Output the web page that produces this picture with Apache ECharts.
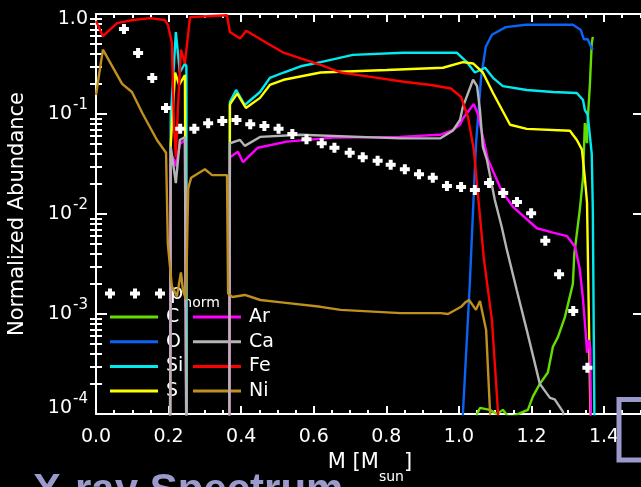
<!DOCTYPE html>
<html>
<head>
<meta charset="utf-8">
<script src="https://cdn.jsdelivr.net/npm/echarts@6/dist/echarts.min.js"></script>
<style>
  html, body { margin: 0; padding: 0; background: #000; }
  #chart { width: 641px; height: 487px; }
</style>
</head>
<body>
<div id="chart"></div>
<script>
// Normalized abundances versus enclosed mass [M, X]
const carbon = [[1.045,1e-6],[1.050,1.0e-4],[1.058,1.15e-4],[1.085,1.1e-4],[1.105,1.0e-4],[1.121,1.1e-4],[1.135,0.95e-4],[1.149,0.95e-4],[1.190,1.1e-4],[1.204,1.5e-4],[1.223,2e-4],[1.245,2.6e-4],[1.259,4.7e-4],[1.273,5.9e-4],[1.292,9.3e-4],[1.314,0.002],[1.318,0.004],[1.333,0.011],[1.342,0.023],[1.347,0.081],[1.353,0.051],[1.355,0.087],[1.361,0.2],[1.366,0.51],[1.369,0.59]];
const oxygen = [[1.006,1e-6],[1.011,1e-4],[1.030,0.002],[1.047,0.05],[1.061,0.23],[1.074,0.47],[1.091,0.62],[1.129,0.74],[1.185,0.78],[1.314,0.78],[1.336,0.69],[1.344,0.56],[1.355,0.56],[1.364,0.47],[1.369,0.44]];
const silicon = [[0.203,1e-6],[0.206,0.10],[0.209,0.138],[0.220,0.66],[0.231,0.26],[0.245,0.32],[0.249,0.30],[0.251,1e-6],[0.366,1e-6],[0.369,0.132],[0.386,0.174],[0.410,0.123],[0.452,0.166],[0.479,0.23],[0.517,0.26],[0.564,0.30],[0.619,0.33],[0.708,0.39],[0.846,0.41],[0.956,0.41],[0.994,0.41],[1.022,0.33],[1.044,0.26],[1.072,0.29],[1.094,0.23],[1.121,0.19],[1.187,0.174],[1.259,0.166],[1.325,0.162],[1.342,0.138],[1.347,0.11],[1.355,0.098],[1.366,0.04],[1.369,0.011],[1.373,1.3e-4],[1.375,1e-6]];
const sulfur = [[0.203,1e-6],[0.206,0.05],[0.218,0.26],[0.229,0.195],[0.245,0.245],[0.249,0.245],[0.251,1e-6],[0.366,1e-6],[0.369,0.125],[0.389,0.16],[0.413,0.115],[0.452,0.145],[0.479,0.195],[0.517,0.22],[0.619,0.26],[0.801,0.275],[0.956,0.29],[1.011,0.33],[1.039,0.32],[1.066,0.26],[1.094,0.162],[1.141,0.078],[1.187,0.071],[1.306,0.068],[1.314,0.062],[1.325,0.055],[1.339,0.044],[1.347,0.023],[1.353,0.013],[1.358,0.0135],[1.362,1.2e-4],[1.364,1e-6]];
const argon = [[0.203,1e-6],[0.206,0.04],[0.215,0.035],[0.220,0.03],[0.231,0.05],[0.245,0.055],[0.249,0.055],[0.251,1e-6],[0.366,1e-6],[0.369,0.037],[0.391,0.042],[0.405,0.033],[0.446,0.046],[0.526,0.053],[0.653,0.058],[0.837,0.059],[0.948,0.062],[0.983,0.069],[1.003,0.078],[1.011,0.09],[1.041,0.126],[1.052,0.10],[1.072,0.047],[1.080,0.035],[1.118,0.017],[1.149,0.0118],[1.215,0.0072],[1.259,0.0065],[1.298,0.006],[1.320,0.0047],[1.333,0.0028],[1.342,0.0014],[1.350,0.0006],[1.353,0.00041],[1.358,0.00055],[1.362,0.00045],[1.366,1e-6]];
const calcium = [[0.203,1e-6],[0.206,0.047],[0.220,0.0204],[0.231,0.055],[0.245,0.059],[0.249,0.059],[0.251,1e-6],[0.366,1e-6],[0.369,0.051],[0.397,0.055],[0.410,0.048],[0.452,0.059],[0.564,0.062],[0.837,0.057],[0.948,0.057],[0.983,0.068],[1.003,0.087],[1.011,0.118],[1.039,0.22],[1.050,0.19],[1.058,0.11],[1.066,0.047],[1.077,0.035],[1.099,0.0138],[1.118,0.0074],[1.132,0.0044],[1.160,0.0017],[1.187,0.00069],[1.223,0.0002],[1.251,0.000145],[1.264,0.00014],[1.287,1.05e-4],[1.30,1e-6]];
const iron = [[0,0.85],[0.019,0.60],[0.058,0.81],[0.102,0.87],[0.149,0.91],[0.190,0.87],[0.198,0.78],[0.209,0.52],[0.215,0.074],[0.220,0.037],[0.226,0.12],[0.234,0.44],[0.245,0.32],[0.259,0.93],[0.306,0.95],[0.361,0.97],[0.369,0.66],[0.397,0.57],[0.414,0.68],[0.472,0.51],[0.517,0.41],[0.564,0.36],[0.619,0.31],[0.674,0.26],[0.757,0.235],[0.848,0.21],[0.923,0.195],[0.978,0.18],[1.006,0.148],[1.025,0.093],[1.041,0.044],[1.069,0.0035],[1.091,0.00087],[1.108,1.0e-4],[1.12,1e-6]];
const nickel = [[0,0.155],[0.019,0.44],[0.072,0.20],[0.099,0.166],[0.129,0.10],[0.168,0.055],[0.193,0.041],[0.198,0.005],[0.209,0.0019],[0.223,0.0015],[0.234,0.0026],[0.240,0.0017],[0.248,0.0014],[0.254,0.018],[0.262,0.023],[0.300,0.028],[0.320,0.0245],[0.361,0.0245],[0.364,0.0016],[0.376,0.00148],[0.410,0.00155],[0.453,0.00138],[0.517,0.0013],[0.619,0.00118],[0.674,0.0011],[0.840,0.00102],[0.950,0.00102],[0.970,0.001],[1.006,0.00118],[1.019,0.00132],[1.028,0.00138],[1.047,0.0011],[1.058,0.00135],[1.075,0.00069],[1.086,1.0e-4],[1.10,1e-6]];
// Normalized density profile
const rhoNorm = [[0.077,0.708],[0.116,0.407],[0.155,0.229],[0.193,0.115],[0.232,0.071],[0.271,0.071],[0.309,0.081],[0.348,0.085],[0.387,0.087],[0.425,0.079],[0.464,0.076],[0.503,0.071],[0.541,0.063],[0.580,0.056],[0.622,0.051],[0.657,0.046],[0.699,0.041],[0.735,0.037],[0.776,0.034],[0.812,0.031],[0.851,0.028],[0.890,0.025],[0.928,0.023],[0.967,0.019],[1.006,0.0186],[1.044,0.0174],[1.083,0.0204],[1.122,0.0162],[1.160,0.0132],[1.199,0.0102],[1.238,0.0054],[1.276,0.0025],[1.315,0.00107],[1.354,0.00029]];

const speciesNames = ['C', 'O', 'Si', 'S', 'Ar', 'Ca', 'Fe', 'Ni'];
const speciesColors = ['#66dd00', '#0a64f5', '#00eaf0', '#ffff00', '#ff00ff', '#b4b4b4', '#ff0000', '#c0901e'];
const speciesData = [carbon, oxygen, silicon, sulfur, argon, calcium, iron, nickel];

const xTickLabels = ['0.0', '0.2', '0.4', '0.6', '0.8', '1.0', '1.2', '1.4'];
const xMin = 0, xMax = 1.51;
const yMin = 1e-4, yMax = 1;

const FONT = 'DejaVu Sans';
const WHITE = '#ffffff';
const LAVENDER = '#9a9acc';

// log-spaced minor ticks 2..9 within each decade (exponent space)
const yMinorTicks = [];
for (let e = -4; e < 0; e++) {
  for (let k = 2; k <= 9; k++) yMinorTicks.push(Math.log10(k) + e);
}

const plusPath = 'path://M3,0h4v3h3v4h-3v3h-4v-3h-3v-4h3z';
const triplePlusPath = 'path://M3,0h4v3h3v4h-3v3h-4v-3h-3v-4h3zM28,0h4v3h3v4h-3v3h-4v-3h-3v-4h3zM53,0h4v3h3v4h-3v3h-4v-3h-3v-4h3z';

function xLabel(v) {
  const i = Math.round(v / 0.2);
  if (Math.abs(v - i * 0.2) > 1e-6) return '';
  return xTickLabels[i] || '';
}
// Exponent labels are stacked lines: superscript line, base line, spacer line
function yLabel(v) {
  const e = Math.round(Math.log10(v));
  if (e === 0) return '{one|1.0}';
  const gap = e === -4 ? 'gap4' : 'gap';
  return '{s|' + e + '}\n{b|10}\n{' + gap + '| }';
}

const txt = (size, extra) => Object.assign({ color: WHITE, fontFamily: FONT, fontSize: size }, extra || {});

function hAxis(position, interval, tickLen, withLine, withLabels) {
  const a = {
    type: 'value', position: position, min: xMin, max: xMax, interval: interval,
    axisLine: { show: withLine, onZero: false, lineStyle: { color: WHITE, width: 2 } },
    axisTick: { show: true, inside: true, length: tickLen, lineStyle: { color: WHITE, width: 2 } },
    axisLabel: { show: withLabels },
    splitLine: { show: false }
  };
  if (withLabels) {
    a.axisLabel = Object.assign(txt(19), { show: true, margin: 14, formatter: xLabel });
    a.name = '{m|M [M}{s|sun}{m|]}';
    a.nameLocation = 'middle';
    a.nameGap = 28;
    a.nameTextStyle = Object.assign(txt(21), {
      rich: { m: txt(21), s: txt(14, { padding: [28, 0, 0, 0] }) }
    });
  }
  return a;
}
function logAxis(position, withLabels) {
  const a = {
    type: 'log', logBase: 10, position: position, min: yMin, max: yMax,
    axisLine: { show: true, onZero: false, lineStyle: { color: WHITE, width: 2 } },
    axisTick: { show: true, inside: true, length: 11, lineStyle: { color: WHITE, width: 2 } },
    axisLabel: { show: false },
    splitLine: { show: false }, minorTick: { show: false }
  };
  if (withLabels) {
    a.axisLabel = Object.assign(txt(19), {
      show: true, margin: 8, formatter: yLabel,
      rich: {
        one: txt(19, { padding: [10, 0, 0, 0] }),
        s: txt(15, { lineHeight: 5 }),
        b: txt(19, { lineHeight: 12, padding: [0, 16, 0, 0] }),
        gap: txt(4, { lineHeight: 5 }),
        gap4: txt(4, { lineHeight: 17 })
      }
    });
    a.name = 'Normalized Abundance';
    a.nameLocation = 'middle';
    a.nameGap = 68;
    a.nameTextStyle = txt(21);
  }
  return a;
}
function minorYAxis(position) {
  return {
    type: 'value', position: position, min: -4, max: 0,
    axisLine: { show: false },
    axisTick: { show: true, inside: true, length: 6, customValues: yMinorTicks, lineStyle: { color: WHITE, width: 2 } },
    axisLabel: { show: false }, splitLine: { show: false }
  };
}

const series = speciesNames.map((name, i) => ({
  name: name, type: 'line', data: speciesData[i],
  xAxisIndex: 0, yAxisIndex: 0,
  showSymbol: false, symbol: 'none', clip: true, z: 3,
  color: speciesColors[i],
  lineStyle: { color: speciesColors[i], width: 2.4 }
}));
series.push({
  name: 'rho', type: 'scatter', data: rhoNorm,
  xAxisIndex: 0, yAxisIndex: 0,
  symbol: plusPath, symbolSize: 10, clip: true, z: 5,
  itemStyle: { color: WHITE, opacity: 1 }
});

const legendText = txt(19, { lineHeight: 22, padding: [0, 0, 0, 3] });

const option = {
  backgroundColor: '#000000',
  animation: false,
  grid: { left: 96, top: 14, width: 548, height: 400, containLabel: false, outerBoundsMode: 'none' },
  xAxis: [
    hAxis('bottom', 0.2, 8, true, true),
    hAxis('bottom', 0.05, 4, false, false),
    hAxis('top', 0.2, 8, true, false),
    hAxis('top', 0.05, 4, false, false)
  ],
  yAxis: [
    logAxis('left', true),
    minorYAxis('left'),
    logAxis('right', false),
    minorYAxis('right')
  ],
  legend: [
    {
      data: [{ name: 'rho', icon: triplePlusPath, itemStyle: { color: WHITE, opacity: 1 } }],
      left: 105, top: 283, padding: 0, z: 1,
      itemWidth: 60, itemHeight: 10, selectedMode: false,
      formatter: () => '{r|ρ}{n|norm}',
      textStyle: Object.assign(txt(19), {
        rich: { r: txt(21), n: txt(14, { padding: [20, 0, 0, 0] }) }
      })
    },
    {
      data: ['C', 'O', 'Si', 'S'], orient: 'vertical', left: 110, top: 306, padding: 0, z: 1,
      icon: 'rect', itemWidth: 48, itemHeight: 3, itemGap: 2.7, selectedMode: false,
      textStyle: legendText
    },
    {
      data: ['Ar', 'Ca', 'Fe', 'Ni'], orient: 'vertical', left: 193, top: 306, padding: 0, z: 1,
      icon: 'rect', itemWidth: 48, itemHeight: 3, itemGap: 2.7, selectedMode: false,
      textStyle: legendText
    }
  ],
  graphic: [
    { type: 'text', left: 33, top: 470, z: 100, silent: true,
      style: { text: 'X-ray Spectrum', fill: LAVENDER, font: 'bold 42px "Liberation Sans", Arial, sans-serif' } },
    { type: 'text', left: 233, top: -43, z: 100, silent: true,
      style: { text: '(', fill: LAVENDER, font: 'bold 42px "Liberation Sans", Arial, sans-serif' } },
    { type: 'text', left: 353, top: -43, z: 100, silent: true,
      style: { text: ')', fill: LAVENDER, font: 'bold 42px "Liberation Sans", Arial, sans-serif' } },
    { type: 'rect', z: 100, silent: true,
      shape: { x: 619, y: 399.5, width: 60, height: 60.5 },
      style: { fill: 'none', stroke: LAVENDER, lineWidth: 5 } }
  ],
  series: series
};

const chart = echarts.init(document.getElementById('chart'), null, { renderer: 'canvas' });
chart.setOption(option);
</script>
</body>
</html>
